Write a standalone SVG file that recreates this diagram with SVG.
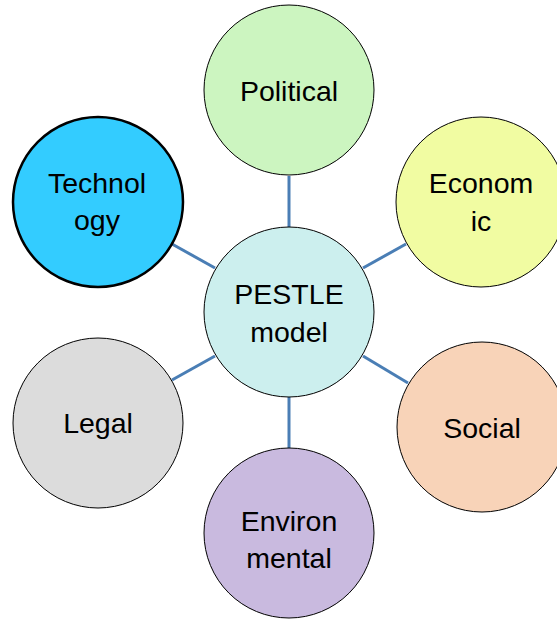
<svg xmlns="http://www.w3.org/2000/svg" width="557" height="620" viewBox="0 0 557 620">
<style>
.n{stroke:#000;stroke-width:1}
.t{font-family:"Liberation Sans",Arial,sans-serif;font-size:28.5px;fill:#000;text-anchor:middle}
.c{stroke:#4a7eb5;stroke-width:3;fill:none}
</style>
<rect width="557" height="620" fill="#fff"/>
<g id="connectors">
<line class="c" x1="289" y1="176" x2="289" y2="227"/>
<line class="c" x1="289" y1="397" x2="289" y2="448"/>
<line class="c" x1="172" y1="244" x2="215" y2="268"/>
<line class="c" x1="406" y1="244" x2="363" y2="268"/>
<line class="c" x1="172" y1="380" x2="215" y2="356"/>
<line class="c" x1="408" y1="383" x2="363" y2="356"/>
</g>
<g id="political"><circle class="n" cx="289" cy="90" r="85" fill="#ccf5c0"/><text class="t" x="289" y="101">Political</text></g>
<g id="economic"><circle class="n" cx="481" cy="202" r="85" fill="#f1fca2"/><text class="t" x="481" y="193">Econom</text><text class="t" x="481" y="231">ic</text></g>
<g id="social"><circle class="n" cx="482" cy="427" r="85" fill="#f8d3b8"/><text class="t" x="482" y="438">Social</text></g>
<g id="environmental"><circle class="n" cx="289" cy="533" r="85" fill="#c9badf"/><text class="t" x="289" y="531">Environ</text><text class="t" x="289" y="568">mental</text></g>
<g id="legal"><circle class="n" cx="98" cy="423" r="85" fill="#dcdcdc"/><text class="t" x="98" y="433">Legal</text></g>
<g id="technology"><circle cx="98" cy="202" r="85" fill="#33ccff" stroke="#000" stroke-width="2.5"/><text class="t" x="97" y="193">Technol</text><text class="t" x="97" y="230">ogy</text></g>
<g id="pestle"><circle class="n" cx="289" cy="312" r="85" fill="#ccefee"/><text class="t" x="289" y="304">PESTLE</text><text class="t" x="289" y="342">model</text></g>
</svg>
